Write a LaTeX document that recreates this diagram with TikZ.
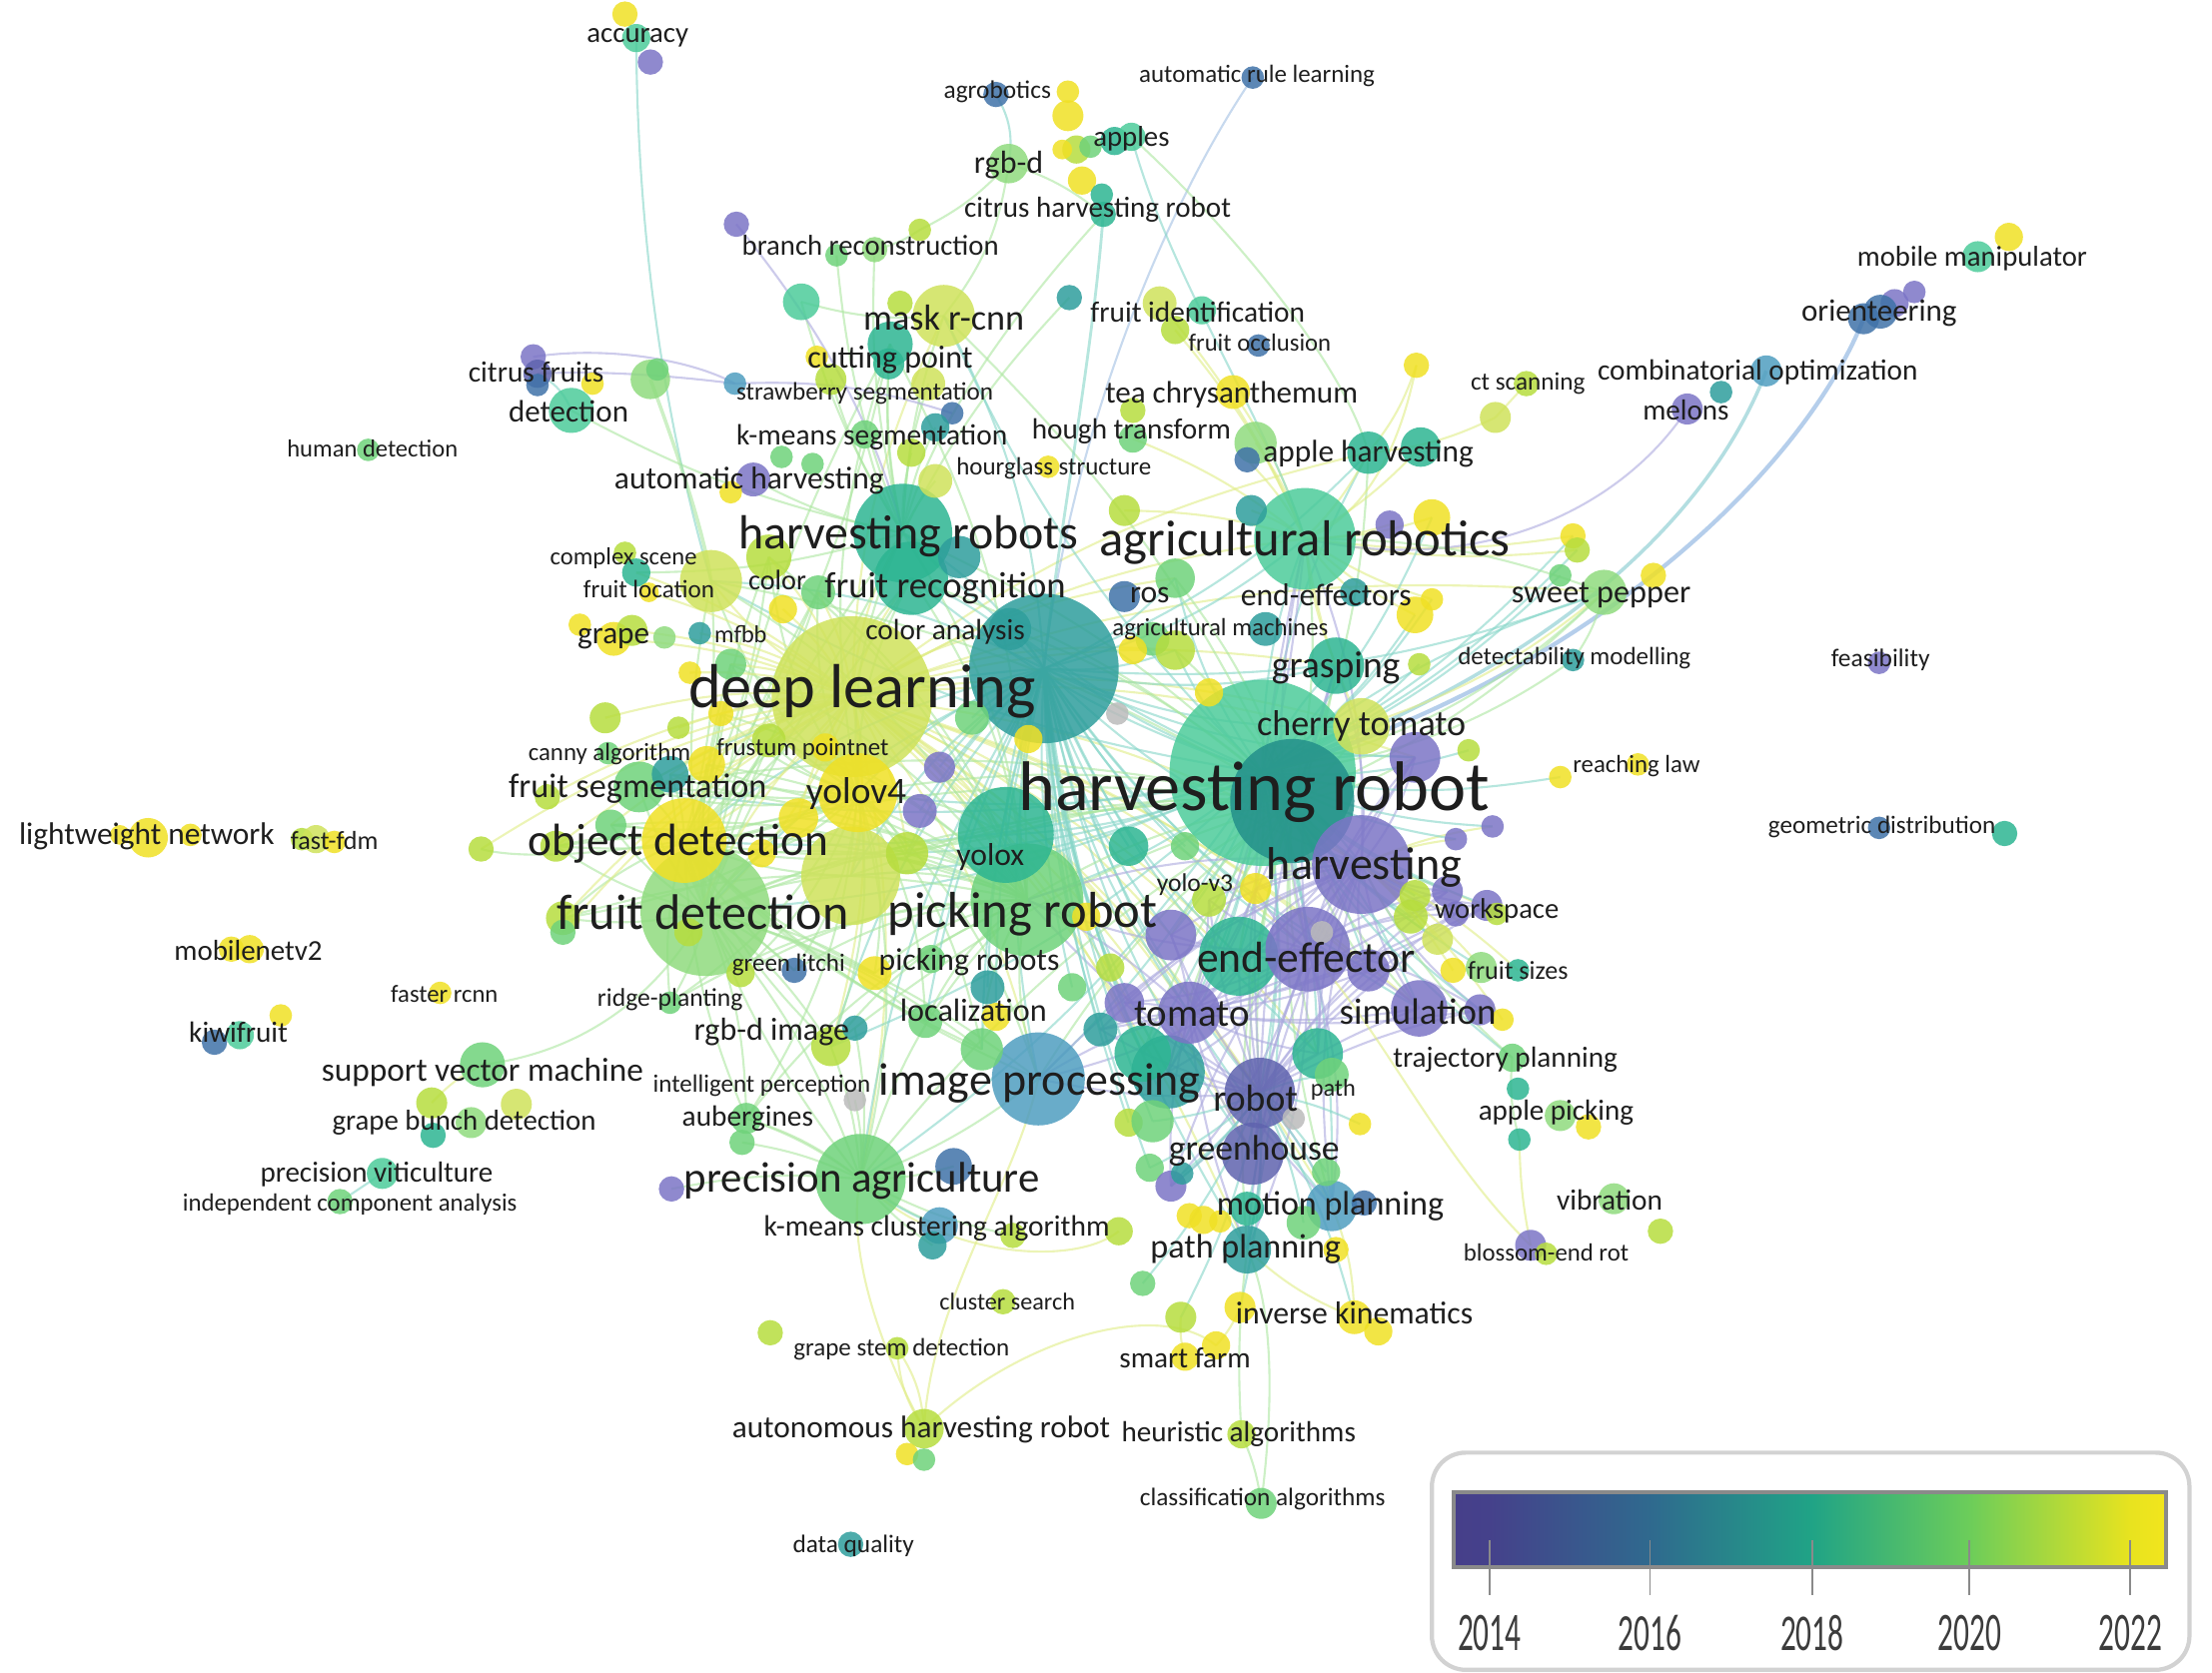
\documentclass[tikz,border=0pt]{standalone}
\usepackage{fontspec}
\setmainfont{Carlito}
\usepackage{graphicx}
\pgfdeclarelayer{edges}
\pgfsetlayers{edges,main}
\definecolor{cP}{HTML}{7B74C6}
\definecolor{cPD}{HTML}{5F63AE}
\definecolor{cB}{HTML}{3F72A8}
\definecolor{cBT}{HTML}{4F9DC0}
\definecolor{cT}{HTML}{2E9E9C}
\definecolor{cTD}{HTML}{23908A}
\definecolor{cTG}{HTML}{2DB592}
\definecolor{cM}{HTML}{4CCB9A}
\definecolor{cG}{HTML}{6FD27A}
\definecolor{cLG}{HTML}{8FDB7E}
\definecolor{cL}{HTML}{B6DD3E}
\definecolor{cYG}{HTML}{CFE25A}
\definecolor{cY}{HTML}{F0E024}
\definecolor{cGr}{HTML}{BBBBBB}
\definecolor{eTc}{HTML}{86D5C8}
\definecolor{eGc}{HTML}{ACE6A0}
\definecolor{eYc}{HTML}{E0EC86}
\definecolor{ePc}{HTML}{ABA9DE}
\definecolor{eBc}{HTML}{A2BFE2}
\definecolor{orc}{HTML}{A8C6E8}
\definecolor{coc}{HTML}{A6D8DC}
\definecolor{labelc}{HTML}{1E1E1E}
\definecolor{legc}{HTML}{D2D2D2}
\definecolor{barc}{HTML}{8A8A8A}
\definecolor{yearc}{HTML}{3C3C3C}
\definecolor{vA}{HTML}{463F8A}
\definecolor{vB}{HTML}{45418B}
\definecolor{vC}{HTML}{2F6A8E}
\definecolor{vD}{HTML}{20A386}
\definecolor{vE}{HTML}{6CCD5A}
\definecolor{vF}{HTML}{E8E31F}
\definecolor{vG}{HTML}{F2E51D}
\pgfdeclarehorizontalshading{viridisbar}{100bp}{color(0bp)=(vA); color(25bp)=(vA); color(27.5bp)=(vB); color(38.9bp)=(vC); color(50.1bp)=(vD); color(61.2bp)=(vE); color(72.5bp)=(vF); color(75bp)=(vG); color(100bp)=(vG)}
\begin{document}
\begin{tikzpicture}[x=1pt,y=-1pt,
  dot/.style={circle,inner sep=0pt,outer sep=0pt,fill opacity=0.85,draw=none},
  lbl/.style={inner sep=0pt,outer sep=0pt,text=labelc},
  lnk/.style={line width=1.5pt,draw opacity=0.6},
  eT/.style={lnk,draw=eTc},
  eG/.style={lnk,draw=eGc},
  eY/.style={lnk,draw=eYc},
  eP/.style={lnk,draw=ePc},
  eB/.style={lnk,draw=eBc},
  orlink/.style={line width=3pt,draw=orc,draw opacity=0.85},
  colink/.style={line width=2.5pt,draw=coc,draw opacity=0.85},
  ticklink/.style={line width=1pt,draw=barc},
  yr/.style={inner sep=0pt,text=yearc}]
\useasboundingbox (0,0) rectangle (1568,1186);
% ---------------- circles ----------------
\foreach \n/\x/\y/\rr/\cl in {
DLT/740/474/53/cT, DL/604/494/57/cYG, HR/895/548/66/cM, HR2/916/568/44/cTD,
LB/603/621/35/cYG, FD/500/646/46/cLG, AR/925/382/36/cM, HRS/640/378/35/cTG,
OD/485/596/30/cY, PR/728/638/40/cG, YX/713/592/34/cTG, IP/736/765/33/cBT,
IP2/828/760/26/cT, PA/610/836/32/cG, HV/965/613/35/cP, EE/878/678/28/cTG,
EE2/927/673/30/cP, TM/843/718/22/cP, RB/893/775/25/cPD, GH/888/818/22/cPD,
FR/646/410/26/cTG, YV4/608/562/28/cY, MR/669/224/22/cYG, CT/965/515/20/cYG,
GR/947/472/20/cTG, MP/944/855/18/cBT, PP/884/886/17/cT, SIM/1006/715/20/cP,
SP/1137/420/16/cLG, AH/970/321/15/cTG, SVM/342/755/16/cG, DT/405/291/16/cM,
CTP/1003/537/18/cP, YG1/504/412/22/cYG, FS/453/558/18/cG,
m1/652/575/12/cP, m2/666/544/11/cP, m3/729/524/10/cY, m4/689/509/12/cG,
m5/643/605/15/cL, m6/890/630/11/cY, m7/857/638/12/cL, m8/830/663/18/cP,
m9/797/711/14/cP, m10/810/747/20/cTG, m11/696/744/15/cG, m12/589/742/14/cL,
m13/656/724/12/cG, m14/706/721/10/cY, m15/606/729/9/cT, m16/563/688/9/cB,
m17/787/686/10/cL, m18/937/661/8/cGr, m19/970/688/15/cP, m20/934/747/18/cTG,
m21/944/762/12/cG, m22/716/446/15/cT, m23/797/423/11/cB, m24/833/410/14/cG,
m25/817/453/12/cG, m26/833/461/14/cL, m27/803/461/10/cY, m28/857/491/10/cY,
m29/792/506/8/cGr, m30/680/395/15/cT, m31/897/446/12/cT, m32/545/395/16/cL,
m33/580/420/12/cG, m34/555/432/10/cY, m35/960/420/10/cT, m36/985/372/10/cP,
m37/566/580/14/cY, m38/585/530/10/cY, m39/545/525/12/cL, m40/540/605/10/cY,
m41/770/650/10/cY, m42/800/600/14/cTG, m43/840/600/10/cG, m44/780/730/12/cT,
m45/760/700/10/cG, m46/660/680/10/cG, m47/620/690/12/cY, m48/525/690/10/cL,
m49/700/700/12/cT, m50/1000/650/12/cL,
l1/511/506/9/cY, l2/489/477/8/cY, l3/518/471/11/cG, l4/481/516/8/cL,
l5/429/509/11/cL, l6/475/549/13/cT, l7/501/542/13/cY, l8/388/565/9/cL,
l9/433/585/11/cG, l10/394/600/11/cL, odl/341/602/9/cL, l11/399/651/12/cL,
l12/399/661/9/cG, l13/488/661/10/cL, l14/431/534/8/cG,
agb/706/67/9/cB, t1/757/65/8/cY, t2/757/82/11/cY, t3/763/106/10/cL,
t4/773/104/8/cG, t5/753/106/7/cY, t6/790/100/10/cTG, apl/802/97/10/cM,
t7/767/128/10/cY, rgbd/715/116/14/cLG, t8/781/138/8/cTG, chr/782/152/9/cTG,
arl/888/55/8/cB, brp/522/159/9/cP, t9/593/181/8/cG, t10/620/177/9/cLG,
t11/652/163/8/cL, t12/568/214/13/cM, t13/631/244/16/cTG, t14/630/258/11/cTG,
t15/638/215/9/cL, t16/658/272/12/cYG, t17/589/269/11/cL, t18/579/253/8/cY,
t19/613/308/10/cG, t20/554/324/8/cG, t21/576/329/8/cG, t22/646/321/10/cL,
t23/663/341/12/cYG, t24/675/293/8/cB, t25/663/303/10/cT, t26/758/211/9/cT,
fi1/822/215/12/cYG, fi2/852/220/10/cM, fi3/833/234/10/cL, fo/892/245/8/cB,
ylw2/1004/259/9/cY, tc/874/278/12/cY, t27/803/291/9/cL, t28/803/311/10/cG,
hg/743/331/8/cY, t29/890/314/15/cLG, t30/1007/317/14/cTG, t31/884/326/9/cB,
t32/797/362/11/cL, t33/887/362/11/cT,
acc1/443/10/9/cY, accT/451/27/10/cM, acc2/461/44/9/cP, cfP/378/253/9/cP,
cfB/381/265/10/cPD, cfB2/381/273/8/cB, cfY/420/272/8/cY, gtl/461/269/14/cLG,
gtl2/466/262/8/cG, hd/261/319/8/cG, tb/521/272/8/cBT, ah1/534/340/12/cP,
ah2/518/349/8/cY, cs1/443/392/8/cL, cs2/451/406/10/cTG, fl/460/420/7/cY,
g1/411/443/8/cY, g2/435/453/12/cY, g3/448/447/11/cL, g4/471/452/8/cLG,
mfbb/496/449/8/cT,
mm1/1424/168/10/cY, mm2/1402/182/11/cM, or1/1357/207/8/cP, or2/1343/215/10/cP,
or3/1333/221/12/cB, orA/1321/226/11/cB, coA/1252/263/11/cBT, co2/1220/278/8/cT,
mel/1196/290/11/cP, cts/1082/272/9/cL, ylw1/1060/296/11/cYG, yel3/1015/367/13/cY,
r1/1115/380/9/cY, r2/1118/390/9/cL, r3/1106/408/8/cG, r4/1172/408/9/cY,
r5/1003/436/13/cY, r6/1015/425/8/cY, r7/1006/471/8/cL, dtm/1115/468/8/cT,
fea/1332/470/8/cP, ctl/1041/532/8/cL, r8/1106/551/8/cY, rl/1161/542/8/cY,
r9/1058/586/8/cP, r10/1032/595/8/cP, gd1/1332/587/8/cB, gd2/1421/591/9/cTG,
r11/1026/632/11/cP, r12/1003/635/11/cL, wsp/1054/642/11/cP, r13/1061/648/8/cL,
r14/1032/648/9/cP, r15/1019/666/11/cYG, r16/1030/688/9/cY, fsz/1050/686/11/cLG,
fsz2/1076/688/8/cTG, r17/1049/716/11/cP, r18/1065/723/8/cY, tj/1072/750/10/cG,
r19/1076/772/8/cTG, apk1/1106/791/11/cLG, apk2/1126/799/9/cY, apk/1077/808/8/cTG,
vib/1144/850/11/cLG, vib2/1177/873/9/cL, bl/1085/883/11/cP, bl2/1096/889/8/cL,
lw1/105/594/14/cY, lw2/135/592/8/cY, lw3/85/592/7/cY, ff1/214/595/8/cL,
ff2/224/595/10/cYG, ff3/237/597/8/cY, mn1/164/673/9/cY, mn2/177/673/10/cY,
frc/312/704/8/cY, kw1/152/739/9/cB, kw2/170/734/10/cM, kw3/199/720/8/cY,
rp/475/711/8/cG, gb/306/782/11/cL, gb2/366/783/11/cYG, gb3/307/805/9/cTG,
gbg/334/796/11/cLG, pv/271/832/11/cM, ica/241/852/9/cG, pp1/476/843/9/cP,
aub/529/793/11/cG, aub2/526/810/9/cG, gy1/606/780/8/cGr,
b1/676/827/13/cB, kmc/666/869/13/cBT, b2/661/883/10/cT, b3/718/876/9/cL,
kml/793/873/10/cL, b4/800/796/10/cL, b5/817/795/15/cG, b6/815/828/10/cG,
b7/830/841/11/cP, b8/838/832/8/cT, b9/917/793/8/cGr, b10/964/797/8/cY,
b11/843/862/9/cY, b12/853/865/10/cY, b13/865/866/8/cY, b14/884/857/12/cTG,
b15/967/853/9/cB, b16/924/867/12/cG, b17/947/886/9/cY, b18/940/831/10/cG,
b19/810/910/9/cG, csr/711/923/9/cL, b20/837/934/11/cL, yik/879/927/11/cY,
ik/960/934/12/cY, ik2/977/944/10/cY, b21/546/945/9/cL, gsd/636/956/8/cL,
smf2/840/962/10/cY, smf/862/954/10/cY, ahr/655/1013/14/cL, ahr2/643/1031/8/cY,
ahr3/655/1035/8/cG, heu/880/1017/10/cL, cla/894/1066/11/cG, dq/603/1095/9/cT}
{\node[dot,fill=\cl,minimum size={2pt*\rr}] (\n) at (\x,\y) {};}
% ---------------- connectors ----------------
\begin{pgfonlayer}{edges}
\foreach \a/\st/\bb in {DL/eY/12, DLT/eT/-12, HR/eT/10, HR2/eG/-10}
 \foreach \b in {AR,HRS,FD,OD,PR,YX,IP,IP2,PA,HV,EE,EE2,TM,RB,GH,FR,YV4,MR,CT,GR,MP,PP,SIM,SP,AH,m5,m8,m10,m12,m22,m24,m26,YG1,FS,LB,CTP,m19,m20}
  {\draw[\st] (\a.center) to[bend left=\bb] (\b.center);}
\foreach \a/\bb in {HV/12,EE2/-12,TM/8,RB/-8}
 \foreach \b in {GH,MP,PP,SIM,IP,IP2,m8,m9,m19,m20,CTP,wsp,m6,m7,EE,PR,AR,GR,r11,r14,r17,b7,m44}
  {\draw[eP] (\a.center) to[bend right=\bb] (\b.center);}
\foreach \a/\bb in {FD/10,OD/-10,YV4/14,PR/-14}
 \foreach \b in {HRS,FR,FS,YG1,LB,m5,m12,m13,m11,PA,IP,YX,l1,l3,l6,l7,l9,l10,l11,m32,m33,m37,m39,m40,aub,rp,m16,m47,m48,t13}
  {\draw[eG] (\a.center) to[bend left=\bb] (\b.center);}
\foreach \b in {MR,t12,t13,t14,t16,t17,t19,t22,t23,t25,ah1,cs2,DT,t9,t10,t26}
  {\draw[eG] (HRS.center) to[bend left=8] (\b.center);}
\foreach \b in {AH,t29,t30,t31,t33,tc,fi1,fi3,yel3,r1,r2,r5,r6,m35,m36,GR,CT,t28,t32}
  {\draw[eY] (AR.center) to[bend right=8] (\b.center);}
\foreach \b in {b5,b6,b7,b8,b9,b10,b14,b16,b18,MP,PP,b19,b20,yik,ik,m21}
  {\draw[eT] (RB.center) to[bend left=8] (\b.center);}
\foreach \b in {b1,kmc,b2,b3,aub,aub2,gy1,m12,m15,pp1,IP}
  {\draw[eG] (PA.center) to[bend right=8] (\b.center);}
\foreach \b in {r12,r15,r16,fsz,fsz2,r18,r13,m50,r10,r9}
  {\draw[eY] (HV.center) to[bend left=8] (\b.center);}
\foreach \b in {r1,r2,r3,r5,r6,r7,ctl,r8,r9,r10,r11,r12,wsp,r15,fsz,r17,tj,m50,yel3}
  {\draw[eT] (HR.center) to[bend right=10] (\b.center);}
\foreach \b in {l1,l2,l3,l4,l5,l6,l7,l8,l9,l10,l11,l12,l13,l14,g2,g3,mfbb,cs2,fl,m32,m33,m34,m38,m39,m37,odl}
  {\draw[eY] (DL.center) to[bend right=10] (\b.center);}
\foreach \b in {m41,m42,m43,m44,m45,m46,m49,m17,m9,m10,m11,m13,m14,b4,b5,b6,m1,m2,m3,m4}
  {\draw[eT] (DLT.center) to[bend right=8] (\b.center);}
\draw[eT] (accT.center) .. controls (452,200) and (480,330) .. (YG1.center);
\draw[eB] (arl.center) .. controls (830,140) and (760,300) .. (DLT.center);
\draw[eG] (apl.center) .. controls (860,150) and (950,250) .. (AH.center);
\draw[eT] (apl.center) .. controls (830,200) and (900,300) .. (AR.center);
\draw[eT,line width=2pt] (chr.center) .. controls (775,250) and (750,380) .. (DLT.center);
\draw[eG] (chr.center) .. controls (720,220) and (660,300) .. (HRS.center);
\draw[eG] (rgbd.center) to[bend left=15] (MR.center);
\draw[eT] (rgbd.center) to[bend right=20] (agb.center);
\draw[eG] (rgbd.center) to[bend left=10] (chr.center);
\draw[eG] (rgbd.center) to[bend left=10] (t11.center);
\draw[eG] (t11.center) to[bend left=10] (t10.center);
\draw[eG] (MR.center) to[bend left=10] (t12.center);
\draw[eP] (brp.center) .. controls (580,230) and (620,300) .. (HRS.center);
\draw[eP] (cfP.center) .. controls (430,245) and (490,255) .. (tb.center);
\draw[eP] (cfB.center) .. controls (430,262) and (490,268) .. (tb.center);
\draw[eP] (tb.center) to[bend left=10] (t24.center);
\draw[eG,line width=2.5pt] (gtl.center) .. controls (480,320) and (500,380) .. (YG1.center);
\draw[eT] (cfB.center) to[bend left=20] (DT.center);
\draw[orlink] (orA.center) .. controls (1280,330) and (1130,480) .. (HR.center);
\draw[colink] (coA.center) .. controls (1215,360) and (1110,470) .. (HR.center);
\draw[eP] (mel.center) .. controls (1150,360) and (1050,410) .. (AR.center);
\draw[eY] (cts.center) -- (ylw1.center);
\draw[eY] (ylw1.center) to[bend left=10] (AH.center);
\draw[eY] (ylw2.center) to[bend left=10] (AH.center);
\draw[eY] (ylw2.center) .. controls (990,330) and (960,370) .. (AR.center);
\draw[eG] (SP.center) to[bend right=10] (AR.center);
\draw[eG] (SP.center) to[bend left=15] (HR.center);
\draw[eY] (SP.center) to[bend left=10] (CT.center);
\draw[eG] (dtm.center) .. controls (1070,500) and (1000,540) .. (HR.center);
\draw[eG] (dtm.center) to[bend right=10] (SP.center);
\draw[eY] (bl.center) .. controls (1020,820) and (980,730) .. (EE2.center);
\draw[eY] (bl.center) to[bend left=5] (apk.center);
\draw[eG] (apk.center) to[bend left=10] (tj.center);
\draw[eG] (tj.center) to[bend left=10] (HV.center);
\draw[eT] (pv.center) -- (ica.center);
\draw[eG] (SVM.center) .. controls (420,745) and (470,700) .. (FD.center);
\draw[eY] (gb.center) to[bend left=10] (SVM.center);
\draw[eG] (odl.center) .. controls (370,610) and (430,605) .. (OD.center);
\draw[eY] (kml.center) .. controls (760,900) and (660,890) .. (PA.center);
\draw[eT] (kmc.center) to[bend left=10] (PA.center);
\draw[eY] (gsd.center) to[bend left=15] (ahr.center);
\draw[eY] (gsd.center) to[bend right=15] (ahr.center);
\draw[eY] (ahr.center) .. controls (620,950) and (600,880) .. (PA.center);
\draw[eY] (ahr.center) .. controls (660,920) and (720,840) .. (IP.center);
\draw[eY] (ahr.center) .. controls (720,950) and (820,920) .. (smf.center);
\draw[eG] (heu.center) to[bend left=5] (PP.center);
\draw[eG] (cla.center) to[bend right=8] (heu.center);
\draw[eG] (cla.center) .. controls (905,980) and (900,920) .. (PP.center);
\draw[eY] (smf.center) to[bend right=10] (yik.center);
\draw[eY] (smf2.center) to[bend left=10] (b20.center);
\draw[eY] (ik.center) to[bend right=10] (MP.center);
\draw[eY] (ik.center) to[bend left=10] (PP.center);
\draw[eG] (aub.center) to[bend left=10] (PA.center);
\end{pgfonlayer}
% ---------------- labels ----------------
\foreach \n/\x/\y/\w/\tx in {
acc/452/25/72/accuracy, agb/707/63/76/agrobotics, arl/891/52/167/automatic rule learning,
apl/802/96/54/apples, rgbd/715/115/49/rgb-d, chr/778/147/189/citrus harvesting robot,
brc/617/172/182/branch reconstruction, mom/1398/181/163/mobile manipulator,
fid/849/219/152/fruit identification, mrc/669/223/114/mask r-cnn, ori/1332/220/110/orienteering,
foc/893/241/101/fruit occlusion, cup/631/253/117/cutting point, cfr/380/262/96/citrus fruits,
tch/873/278/179/tea chrysanthemum, sts/613/277/182/strawberry segmentation,
cop/1246/262/227/combinatorial optimization, cts/1083/270/81/ct scanning, det/403/290/85/detection,
mel/1195/289/61/melons, kms/618/308/192/k-means segmentation, hot/802/304/141/hough transform,
hud/264/316/121/human detection, aph/970/320/149/apple harvesting, hgs/747/330/138/hourglass structure,
auh/531/339/191/automatic harvesting, hrs/644/378/241/harvesting robots, agr/925/383/291/agricultural robotics,
cps/442/394/104/complex scene, col/551/409/41/color, frr/670/415/171/fruit recognition,
flo/460/416/93/fruit location, ros/815/420/28/ros, efs/940/420/121/end-effectors,
swp/1135/420/127/sweet pepper, coa/670/446/113/color analysis, agm/865/444/153/agricultural machines,
grp/435/451/51/grape, mfb/525/448/37/mfbb, gra/947/472/91/grasping,
dtm/1116/465/165/detectability modelling, fea/1333/466/70/feasibility, dpl/611/488/246/deep learning,
cht/965/513/148/cherry tomato, can/432/533/115/canny algorithm, frp/569/529/122/frustum pointnet,
rel/1160/541/90/reaching law, fsg/452/557/183/fruit segmentation, yv4/607/561/71/yolov4,
hvr/889/560/334/harvesting robot, lwn/104/591/181/lightweight network, ffd/237/594/62/fast-fdm,
obd/481/596/213/object detection, ged/1334/584/161/geometric distribution, ylx/702/606/48/yolox,
hvs/967/613/138/harvesting, yv3/847/625/54/yolo-v3, wsp/1061/644/88/workspace,
frd/498/645/207/fruit detection, pkr/725/646/191/picking robot, mnv/176/672/105/mobilenetv2,
eef/926/677/155/end-effector, grl/559/682/80/green litchi, pks/687/680/128/picking robots,
fsz/1076/686/71/fruit sizes, frc/315/703/76/faster rcnn, rdp/475/707/103/ridge-planting,
loc/690/714/104/localization, tom/845/717/82/tomato, sim/1005/715/111/simulation,
kiw/169/730/70/kiwifruit, rdi/547/730/110/rgb-d image, trj/1067/749/159/trajectory planning,
svm/342/758/228/support vector machine, inp/540/768/154/intelligent perception,
imp/737/766/228/image processing, rob/890/777/60/robot, pth/945/771/32/path,
apk/1103/787/110/apple picking, gbd/329/794/187/grape bunch detection, aub/530/791/93/aubergines,
grh/889/814/121/greenhouse, pvi/267/831/165/precision viticulture, pag/611/835/252/precision agriculture,
ica/248/852/237/independent component analysis, vib/1141/849/75/vibration,
mpl/943/853/161/motion planning, kmc/664/869/245/k-means clustering algorithm,
ppl/883/884/135/path planning, ber/1096/886/117/blossom-end rot, csr/714/921/96/cluster search,
ikn/960/929/168/inverse kinematics, gsd/639/955/153/grape stem detection, smf/840/961/93/smart farm,
ahr/653/1012/268/autonomous harvesting robot, heu/878/1015/166/heuristic algorithms,
cla/895/1061/174/classification algorithms, dqa/605/1094/86/data quality}
{\node[lbl] (L\n) at (\x,\y+2) {\resizebox{\w pt}{!}{\tx}};}
% ---------------- legend ----------------
\node[draw=legc,line width=3pt,rounded corners=24pt,minimum width=537pt,minimum height=154pt,inner sep=0pt,fill=white] (legend) at (1283.5,1107) {};
\node[draw=barc,line width=3pt,shade,shading=viridisbar,minimum width=505pt,minimum height=53pt,inner sep=0pt] (bar) at (1282.9,1084.8) {};
\foreach \yy/\xx in {2014/1055.8,2016/1169.8,2018/1284.6,2020/1396,2022/1510}
 {\coordinate (t\yy) at (\xx,1092);
  \coordinate (u\yy) at (\xx,1131);
  \draw[ticklink] (t\yy) -- (u\yy);
  \node[yr] (y\yy) at (\xx,1157.6) {\resizebox{45pt}{25pt}{\yy}};}
\end{tikzpicture}
\end{document}
